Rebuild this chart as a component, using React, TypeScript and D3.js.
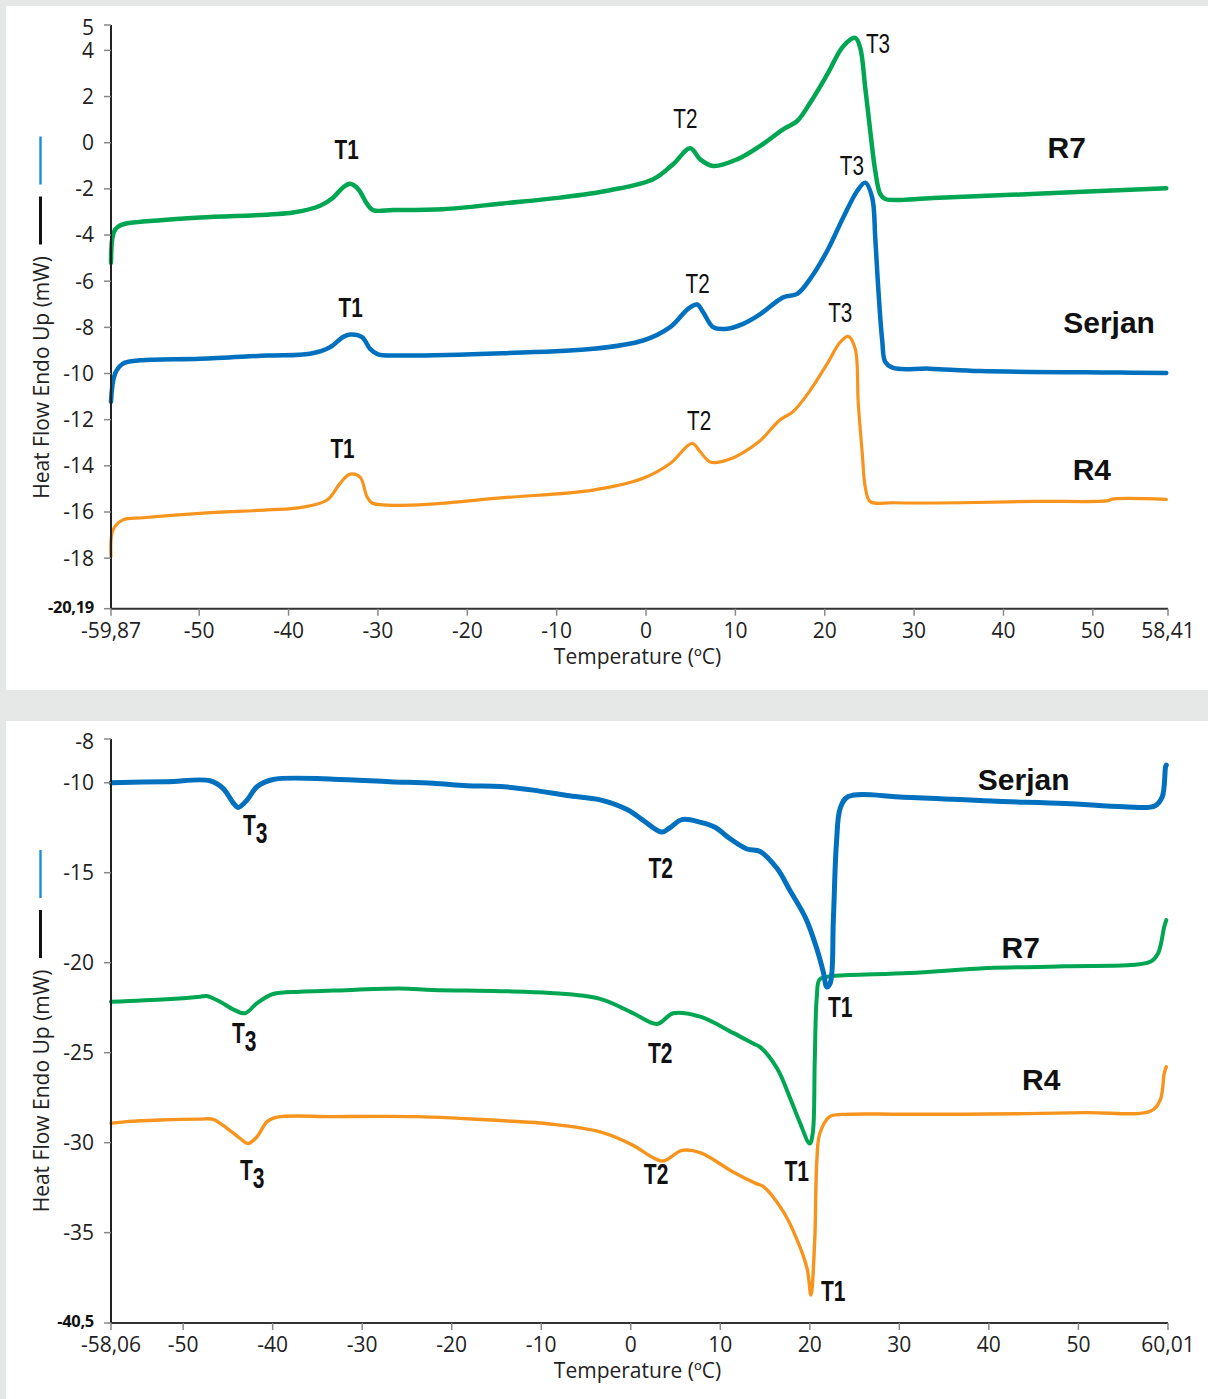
import React from 'react';
import * as d3 from 'd3';

type Pt = [number, number];

// ---------------- Top panel: heating scan ----------------
const heatXDomain: Pt = [-59.87, 58.41];
const heatYDomain: Pt = [-20.19, 5.1];
const heatXTicks = [-59.87, -50, -40, -30, -20, -10, 0, 10, 20, 30, 40, 50, 58.41];
const heatYTicks = [4, 2, 0, -2, -4, -6, -8, -10, -12, -14, -16, -18];
const heatYEnds = ['-20,19', '5'];

const heatR7: Pt[] = [
  [-59.87, -5.2], [-59.76, -4.25], [-59.53, -3.86], [-59.09, -3.64], [-58.3, -3.51], [-57.41, -3.46],
  [-49.91, -3.24], [-39.5, -3.02], [-36.48, -2.73], [-35.02, -2.38], [-33.91, -1.94], [-33.12, -1.78],
  [-32.23, -2.0], [-31.22, -2.65], [-30.55, -2.92], [-28.31, -2.92], [-22.71, -2.88], [-16.0, -2.63],
  [-9.61, -2.38], [-4.02, -2.06], [0.8, -1.58], [3.03, -0.93], [4.94, -0.24], [6.06, -0.72],
  [7.51, -1.01], [10.2, -0.72], [12.7, -0.16], [15.35, 0.58], [16.92, 0.94], [18.37, 1.73],
  [20.28, 2.96], [22.07, 4.18], [23.41, 4.54], [23.97, 4.11], [24.53, 2.38], [25.09, 0.51],
  [25.65, -1.22], [26.21, -2.23], [26.77, -2.44], [32.14, -2.4], [44.34, -2.2], [58.22, -1.97],
];
const heatSerjan: Pt[] = [
  [-59.87, -11.23], [-59.42, -10.01], [-58.53, -9.57], [-56.62, -9.43], [-49.91, -9.36], [-42.41, -9.22],
  [-37.6, -9.14], [-35.36, -8.86], [-33.91, -8.42], [-33.12, -8.31], [-31.78, -8.42], [-30.88, -8.93],
  [-29.99, -9.17], [-27.52, -9.22], [-16.0, -9.12], [-5.92, -8.93], [-0.33, -8.57], [2.7, -7.99],
  [4.71, -7.2], [5.72, -7.01], [6.39, -7.34], [7.51, -7.99], [9.08, -8.06], [10.87, -7.85],
  [12.7, -7.45], [15.35, -6.7], [16.92, -6.55], [18.37, -5.9], [20.28, -4.68], [22.07, -3.24],
  [23.63, -2.09], [24.53, -1.73], [25.31, -2.38], [25.65, -4.1], [25.98, -6.26], [26.43, -8.57],
  [26.77, -9.5], [27.66, -9.76], [31.76, -9.79], [37.4, -9.89], [53.02, -9.96], [58.22, -9.98],
];
const heatR4: Pt[] = [
  [-59.87, -17.93], [-59.65, -16.78], [-58.53, -16.34], [-56.29, -16.25], [-49.91, -16.06], [-42.41, -15.91],
  [-38.71, -15.81], [-35.69, -15.48], [-34.24, -14.76], [-33.12, -14.36], [-32.0, -14.49], [-31.22, -15.34],
  [-30.66, -15.61], [-28.98, -15.7], [-24.5, -15.67], [-16.0, -15.38], [-5.92, -15.05], [-0.33, -14.54],
  [2.7, -13.9], [5.16, -13.03], [6.06, -13.39], [7.18, -13.83], [9.08, -13.75], [12.7, -12.93],
  [14.94, -12.02], [16.4, -11.67], [18.37, -10.73], [20.28, -9.57], [21.73, -8.64], [22.63, -8.39],
  [23.41, -8.93], [23.75, -11.3], [24.2, -13.46], [24.53, -14.91], [25.09, -15.55], [27.66, -15.6],
  [35.15, -15.6], [43.44, -15.54], [51.72, -15.51], [52.17, -15.44], [58.22, -15.45],
];
const heatNames = [
  { text: 'R7', T: 47.08, v: -0.66 },
  { text: 'Serjan', T: 51.82, v: -8.24 },
  { text: 'R4', T: 49.89, v: -14.61 },
];
const heatPeaks = [
  { text: 'T1', sub: '', T: -33.51, v: -0.71 },
  { text: 'T2', sub: '', T: 4.41, v: 0.64 },
  { text: 'T3', sub: '', T: 25.96, v: 3.88 },
  { text: 'T1', sub: '', T: -33.06, v: -7.55 },
  { text: 'T2', sub: '', T: 5.78, v: -6.51 },
  { text: 'T3', sub: '', T: 23.04, v: -1.4 },
  { text: 'T1', sub: '', T: -33.96, v: -13.66 },
  { text: 'T2', sub: '', T: 5.95, v: -12.44 },
  { text: 'T3', sub: '', T: 21.74, v: -7.75 },
];

// ---------------- Bottom panel: cooling scan ----------------
const coolXDomain: Pt = [-58.06, 60.01];
const coolYDomain: Pt = [-40.02, -7.57];
const coolXTicks = [-58.06, -50, -40, -30, -20, -10, 0, 10, 20, 30, 40, 50, 60.01];
const coolYTicks = [-10, -15, -20, -25, -30, -35];
const coolYEnds = ['-40,5', '-8'];

const coolSerjan: Pt[] = [
  [-58.06, -10.0], [-51.84, -9.94], [-47.0, -9.89], [-45.55, -10.31], [-44.43, -11.1], [-43.87, -11.37],
  [-42.86, -10.96], [-41.75, -10.22], [-39.96, -9.82], [-33.26, -9.8], [-26.89, -9.94], [-22.08, -10.03],
  [-18.28, -10.17], [-14.6, -10.21], [-10.91, -10.41], [-7.11, -10.71], [-3.42, -10.95], [-0.41, -11.49],
  [1.38, -12.09], [3.5, -12.74], [4.39, -12.49], [5.71, -12.05], [7.72, -12.19], [9.51, -12.5],
  [10.74, -12.98], [12.98, -13.68], [14.45, -13.82], [16.35, -14.77], [17.75, -15.96], [19.56, -17.55],
  [20.72, -19.13], [21.51, -20.52], [21.9, -21.35], [22.29, -21.12], [22.63, -17.6], [22.97, -13.4],
  [23.41, -11.4], [24.3, -10.77], [30.45, -10.8], [40.25, -11.02], [48.53, -11.15], [55.07, -11.33],
  [58.53, -11.29], [59.37, -10.78], [59.74, -9.11], [59.82, -9.02],
];
const coolR7: Pt[] = [
  [-58.06, -22.17], [-51.84, -22.03], [-48.12, -21.89], [-47.37, -21.85], [-45.88, -22.17], [-44.43, -22.59],
  [-43.09, -22.81], [-41.78, -22.26], [-39.96, -21.74], [-36.94, -21.61], [-33.26, -21.55], [-25.77, -21.44],
  [-22.08, -21.52], [-14.6, -21.58], [-9.01, -21.68], [-3.42, -22.01], [0.27, -22.81], [2.94, -23.4],
  [4.73, -22.81], [7.75, -23.0], [11.43, -23.9], [13.67, -24.49], [14.45, -24.69], [16.35, -25.88],
  [17.75, -27.47], [18.87, -28.86], [19.99, -30.05], [20.33, -29.46], [20.55, -25.49], [20.78, -21.91],
  [21.11, -20.92], [22.57, -20.74], [24.47, -20.68], [31.17, -20.57], [39.89, -20.3], [48.53, -20.2],
  [58.09, -19.93], [58.92, -19.46], [59.59, -18.0], [59.82, -17.63],
];
const coolR4: Pt[] = [
  [-58.06, -28.92], [-56.31, -28.83], [-52.59, -28.74], [-48.12, -28.69], [-46.66, -28.7], [-45.1, -29.2],
  [-43.65, -29.76], [-42.75, -30.05], [-41.75, -29.67], [-40.63, -28.83], [-39.51, -28.58], [-33.26, -28.55],
  [-23.87, -28.55], [-19.07, -28.65], [-14.6, -28.77], [-9.01, -28.96], [-3.42, -29.4], [0.27, -30.15],
  [2.16, -30.74], [3.61, -31.02], [5.74, -30.43], [7.75, -30.55], [11.43, -31.63], [13.9, -32.25],
  [14.79, -32.43], [17.02, -33.82], [18.59, -35.41], [19.7, -37.0], [20.12, -38.47], [20.55, -35.41],
  [20.78, -31.04], [21.11, -29.5], [22.22, -28.55], [24.47, -28.42], [30.06, -28.42], [39.89, -28.41],
  [50.73, -28.33], [58.09, -28.24], [59.14, -27.63], [59.59, -26.15], [59.82, -25.78],
];
const coolNames = [
  { text: 'Serjan', T: 43.89, v: -10.41 },
  { text: 'R7', T: 43.56, v: -19.74 },
  { text: 'R4', T: 45.85, v: -27.08 },
];
const coolPeaks = [
  { text: 'T', sub: '3', T: -43.31, v: -12.91 },
  { text: 'T2', sub: '', T: 3.34, v: -15.27 },
  { text: 'T1', sub: '', T: 23.39, v: -23.02 },
  { text: 'T', sub: '3', T: -44.54, v: -24.46 },
  { text: 'T2', sub: '', T: 3.28, v: -25.57 },
  { text: 'T1', sub: '', T: 18.53, v: -32.13 },
  { text: 'T', sub: '3', T: -43.65, v: -32.08 },
  { text: 'T2', sub: '', T: 2.83, v: -32.29 },
  { text: 'T1', sub: '', T: 22.61, v: -38.82 },
];

const xTitle = 'Temperature (ºC)';
const yTitle = 'Heat Flow Endo Up (mW)';

// ---------------- styling ----------------
const GREEN = '#00a651';
const BLUE = '#0070bf';
const ORANGE = '#f7941e';
const AXIS_FONT = "'Open Sans', 'Noto Sans', sans-serif";
const LABEL_FONT = "'Liberation Sans', Arial, sans-serif";

type Layout = {
  panelTop: number; panelHeight: number;
  left: number; right: number; top: number; bottom: number;
  yTitleCenter: number;
};

type Series = { name: string; data: Pt[]; color: string; width: number };
type Peak = { text: string; sub: string; T: number; v: number };
type Name = { text: string; T: number; v: number };

const fmt = (d: number) => String(d).replace('.', ',');

function Panel(props: {
  layout: Layout; xDomain: Pt; yDomain: Pt; xTicks: number[]; yTicks: number[]; yEnds: string[];
  series: Series[]; names: Name[]; peaks: Peak[]; boldPeaks: string[]; peakSize: number; peakScale: number;
}) {
  const { layout: L, xDomain, yDomain, xTicks, yTicks, yEnds, series, names, peaks, boldPeaks, peakSize, peakScale } = props;
  const x = d3.scaleLinear().domain(xDomain).range([L.left, L.right]);
  const y = d3.scaleLinear().domain(yDomain).range([L.bottom, L.top]);
  const line = d3.line<Pt>().x(d => x(d[0])).y(d => y(d[1])).curve(d3.curveCatmullRom.alpha(0.5));
  const tickLen = 7;
  const xLabelX = (L.left + L.right) / 2 - 2;
  const titleX = 49;
  const legX = 40.5;
  return (
    <g>
      <rect x={6} y={L.panelTop} width={1202} height={L.panelHeight} fill="#ffffff" />
      {/* series */}
      {series.map(s => (
        <path key={s.name} d={line(s.data) || ''} fill="none" stroke={s.color} strokeWidth={s.width}
          strokeLinejoin="round" strokeLinecap="round" />
      ))}
      {/* y axis */}
      <line x1={L.left} x2={L.left} y1={L.top} y2={L.bottom} stroke="#222" strokeWidth={2} />
      {yTicks.map(t => (
        <g key={'yt' + t}>
          <line x1={L.left - tickLen} x2={L.left} y1={y(t)} y2={y(t)} stroke="#888" strokeWidth={1.5} />
          <text x={L.left - 17} y={y(t)} dy="0.35em" textAnchor="end" fontFamily={AXIS_FONT} fontSize={21} fill="#222">{fmt(t)}</text>
        </g>
      ))}
      {/* axis-end labels */}
      <line x1={L.left - tickLen} x2={L.left} y1={L.top} y2={L.top} stroke="#888" strokeWidth={1.5} />
      <text x={L.left - 17} y={L.top + 3} dy="0.35em" textAnchor="end" fontFamily={AXIS_FONT} fontSize={21} fill="#222">{yEnds[1]}</text>
      <line x1={L.left - tickLen} x2={L.left} y1={L.bottom} y2={L.bottom} stroke="#888" strokeWidth={1.5} />
      <text x={L.left - 17} y={L.bottom - 1.5} dy="0.35em" textAnchor="end" fontFamily={AXIS_FONT} fontSize={16.5} fontWeight="bold" letterSpacing="-0.3" fill="#111">{yEnds[0]}</text>
      {/* x axis */}
      <line x1={L.left} x2={L.right} y1={L.bottom} y2={L.bottom} stroke="#333" strokeWidth={2} />
      {xTicks.map(t => (
        <g key={'xt' + t}>
          <line x1={x(t)} x2={x(t)} y1={L.bottom} y2={L.bottom + tickLen} stroke="#888" strokeWidth={1.5} />
          <text x={x(t)} y={L.bottom + 29} textAnchor="middle" fontFamily={AXIS_FONT} fontSize={21} fill="#222">{fmt(t)}</text>
        </g>
      ))}
      <text x={xLabelX} y={L.bottom + 55} textAnchor="middle" fontFamily={AXIS_FONT} fontSize={21} fill="#222">{xTitle}</text>
      {/* y title with line keys */}
      <text transform={`translate(${titleX},${L.yTitleCenter}) rotate(-90)`} textAnchor="middle" fontFamily={AXIS_FONT} fontSize={21} fill="#222">{yTitle}</text>
      <line x1={legX} x2={legX} y1={L.yTitleCenter - 133} y2={L.yTitleCenter - 181} stroke="#111" strokeWidth={3} />
      <line x1={legX} x2={legX} y1={L.yTitleCenter - 193} y2={L.yTitleCenter - 241} stroke="#1a8fd8" strokeWidth={2.4} />
      {/* peak labels */}
      {peaks.map((p, i) => {
        const bold = boldPeaks.includes(p.text + p.sub);
        return (
          <text key={'pk' + i} transform={`translate(${x(p.T)},${y(p.v)}) scale(${peakScale},1)`}
            textAnchor={p.sub ? 'start' : 'middle'} fontFamily={LABEL_FONT} fontSize={peakSize}
            fontWeight={bold ? 'bold' : 'normal'} fill="#111">
            {p.text}
            {p.sub ? <tspan dy={8}>{p.sub}</tspan> : null}
          </text>
        );
      })}
      {/* series name labels */}
      {names.map(n => (
        <text key={'nm' + n.text} x={x(n.T)} y={y(n.v)} textAnchor="middle" fontFamily={LABEL_FONT}
          fontSize={30} fontWeight="bold" fill="#111">{n.text}</text>
      ))}
    </g>
  );
}

const topLayout: Layout = { panelTop: 6, panelHeight: 684, left: 111, right: 1168, top: 25, bottom: 608.7, yTitleCenter: 377.5 };
const botLayout: Layout = { panelTop: 721, panelHeight: 678, left: 111, right: 1168, top: 739, bottom: 1323, yTitleCenter: 1091 };

export default function App() {
  const heatSeries: Series[] = [
    { name: 'R4', data: heatR4, color: ORANGE, width: 3.2 },
    { name: 'Serjan', data: heatSerjan, color: BLUE, width: 4.5 },
    { name: 'R7', data: heatR7, color: GREEN, width: 4.5 },
  ];
  const coolSeries: Series[] = [
    { name: 'R4', data: coolR4, color: ORANGE, width: 3.4 },
    { name: 'R7', data: coolR7, color: GREEN, width: 4 },
    { name: 'Serjan', data: coolSerjan, color: BLUE, width: 5 },
  ];
  return (
    <div style={{ position: 'absolute', left: 0, top: 0 }}>
      <svg width={1208} height={1399} style={{ display: 'block' }}>
        <rect x={0} y={0} width={1208} height={1399} fill="#e5e8e7" />
        <Panel layout={topLayout} xDomain={heatXDomain} yDomain={heatYDomain} xTicks={heatXTicks}
          yTicks={heatYTicks} yEnds={heatYEnds} series={heatSeries} names={heatNames} peaks={heatPeaks}
          boldPeaks={['T1']} peakSize={28} peakScale={0.74} />
        <Panel layout={botLayout} xDomain={coolXDomain} yDomain={coolYDomain} xTicks={coolXTicks}
          yTicks={coolYTicks} yEnds={coolYEnds} series={coolSeries} names={coolNames} peaks={coolPeaks}
          boldPeaks={['T1', 'T2', 'T3']} peakSize={30} peakScale={0.7} />
      </svg>
    </div>
  );
}
